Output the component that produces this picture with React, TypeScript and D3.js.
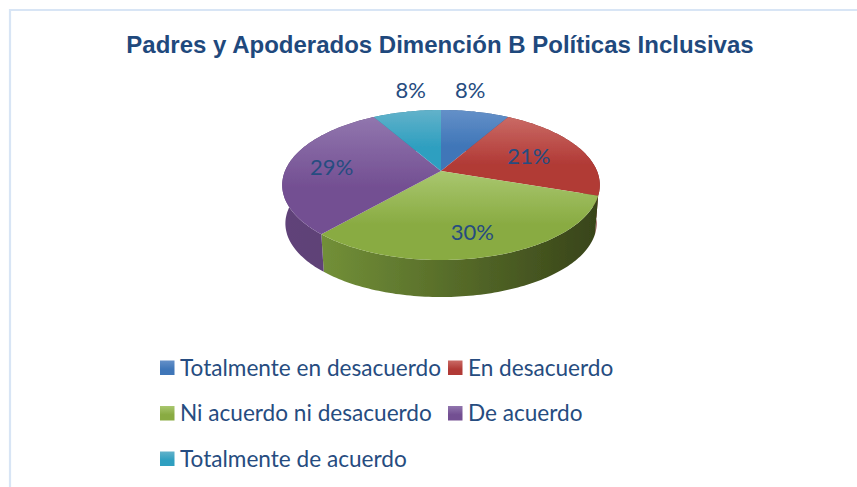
import React from "react";
import * as d3 from "d3";

const categories = ["Totalmente en desacuerdo", "En desacuerdo", "Ni acuerdo ni desacuerdo", "De acuerdo", "Totalmente de acuerdo"];
const values = [8, 21, 30, 29, 8];
const topLight = ["#6490c8", "#ca6a65", "#a9c76f", "#9176ae", "#62b2ca"];
const topDark = ["#3f76b8", "#b13a36", "#89ab42", "#734f92", "#2f9fc0"];
const wallLight = ["#3f6ea8", "#a83632", "#7a9a3c", "#604379", "#2f8fac"];
const wallDark = ["#2c4e78", "#7a2724", "#384419", "#513a68", "#206478"];
const labelNudge = [[-5, -21], [-10, 2], [-1, 5], [-2, 1], [4, -21]];
const labelRadius = [1, 0.7, 0.7, 0.7, 1];

const W = 857, H = 487;
const CX = 441, CY = 171, R = 156, PERSP = -0.1867, YS = 72.4, DEPTH = 38.8, BASE = 0.98;
const TEXT = "#264c80";

function project(a: number, r: number, base = false): [number, number] {
  const u = Math.sin(a) * r, v = -Math.cos(a) * r;
  const d = 1 + PERSP * v;
  const s = base ? BASE : 1;
  return [CX + (s * R * u) / d, CY + (base ? DEPTH : 0) + (s * YS * v) / d];
}

function samples(a0: number, a1: number): number[] {
  const n = Math.max(2, Math.ceil((a1 - a0) / 0.02));
  return d3.range(n + 1).map((i) => a0 + ((a1 - a0) * i) / n);
}

const line = d3.line();
const arcs = d3.pie<number>().sort(null).value((d) => d)(values);

export default function App() {
  return (
    <svg width={W} height={H} style={{ position: "absolute", left: 0, top: 0, display: "block" }}>
      <defs>
        <filter id="soft" x="-5%" y="-5%" width="110%" height="110%"><feGaussianBlur stdDeviation="0.5" /></filter>
        {values.map((_, i) => (
          <React.Fragment key={i}>
            <linearGradient id={`top${i}`} x1="0" y1="0" x2="0" y2="1">
              <stop offset="0" stopColor={topLight[i]} />
              <stop offset="0.6" stopColor={topDark[i]} />
              <stop offset="1" stopColor={topDark[i]} />
            </linearGradient>
            <linearGradient id={`wall${i}`} gradientUnits="userSpaceOnUse" x1={CX - R} y1="0" x2={CX + R} y2="0">
              <stop offset="0%" stopColor={wallLight[i]} />
              <stop offset="100%" stopColor={wallDark[i]} />
            </linearGradient>
          </React.Fragment>
        ))}
      </defs>
      <rect width={W} height={H} fill="#fff" />
      <path d={`M10,${H}V10H${W}`} fill="none" stroke="#d8e5f5" strokeWidth={2.2} />
      <text x={440} y={53} textAnchor="middle" fontFamily="Liberation Sans" fontWeight="bold" fontSize={24} fill="#1f497d">
        Padres y Apoderados Dimención B Políticas Inclusivas
      </text>
      <g filter="url(#soft)">
        {arcs.map((s, i) => {
          const as = samples(s.startAngle, s.endAngle);
          const pts = [...as.map((a) => project(a, 1)), ...as.slice().reverse().map((a) => project(a, 1, true))];
          return <path key={i} d={line(pts) + "Z"} fill={`url(#wall${i})`} />;
        })}
        {arcs.map((s, i) => {
          const pts = [project(0, 0), ...samples(s.startAngle, s.endAngle).map((a) => project(a, 1))];
          return <path key={i} d={line(pts as [number, number][]) + "Z"} fill={`url(#top${i})`} />;
        })}
      </g>
      {arcs.map((s, i) => {
        const [x, y] = project((s.startAngle + s.endAngle) / 2, labelRadius[i]);
        return (
          <text key={i} x={x + labelNudge[i][0]} y={y + labelNudge[i][1]} dy="0.35em" textAnchor="middle" fontFamily="Lato" fontSize={22} fill={TEXT}>
            {`${values[i]}%`}
          </text>
        );
      })}
      {categories.map((c, i) => {
        const col = i % 2, row = Math.floor(i / 2);
        const x = 160 + col * 288, y = 368 + row * 45.5;
        return (
          <g key={c}>
            <rect x={x} y={y - 7.5} width={14.5} height={14.5} fill={`url(#top${i})`} />
            <text x={x + 20} y={y} dy="0.35em" fontFamily="Lato" fontSize={22.6} fill={TEXT}>{c}</text>
          </g>
        );
      })}
    </svg>
  );
}
